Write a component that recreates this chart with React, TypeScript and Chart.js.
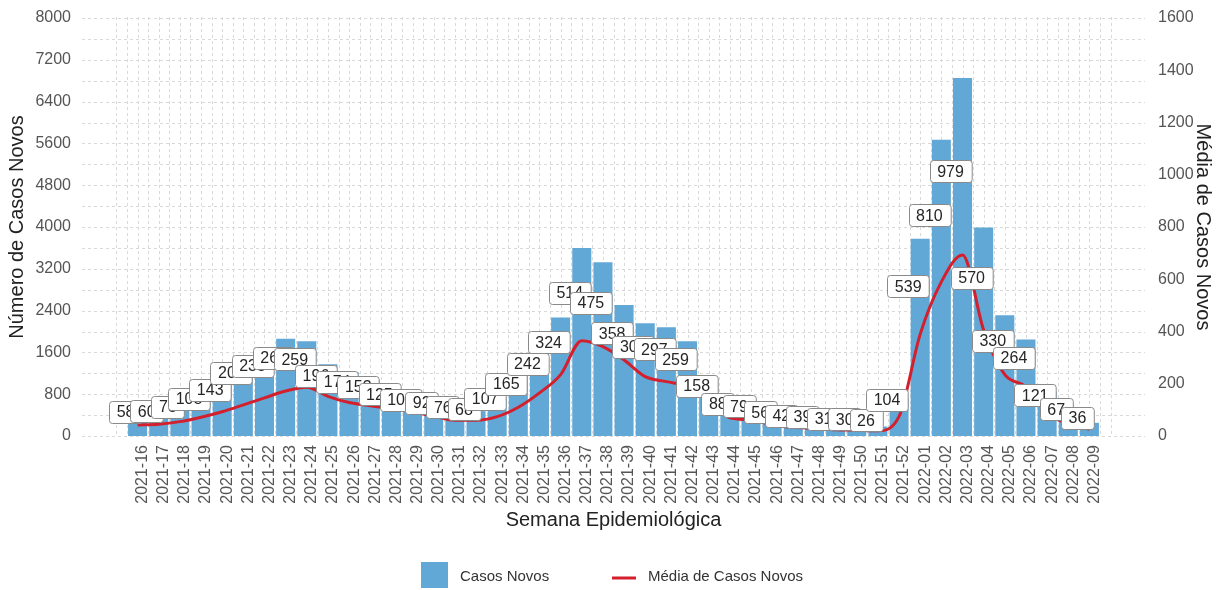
import React, { useEffect, useRef } from "react";
import { Chart, registerables } from "chart.js";

Chart.register(...registerables);

const semanas = [
  "2021-16", "2021-17", "2021-18", "2021-19", "2021-20", "2021-21", "2021-22", "2021-23",
  "2021-24", "2021-25", "2021-26", "2021-27", "2021-28", "2021-29", "2021-30", "2021-31",
  "2021-32", "2021-33", "2021-34", "2021-35", "2021-36", "2021-37", "2021-38", "2021-39",
  "2021-40", "2021-41", "2021-42", "2021-43", "2021-44", "2021-45", "2021-46", "2021-47",
  "2021-48", "2021-49", "2021-50", "2021-51", "2021-52", "2022-01", "2022-02", "2022-03",
  "2022-04", "2022-05", "2022-06", "2022-07", "2022-08", "2022-09",
];

// weekly new cases (left axis)
const casosNovos = [
  406, 420, 546, 756, 1001, 1456, 1645, 1862,
  1813, 1372, 1218, 1071, 875, 721, 644, 532,
  476, 749, 1155, 1694, 2268, 3598, 3325, 2506,
  2156, 2079, 1813, 1106, 616, 553, 392, 294,
  273, 217, 210, 182, 728, 3773, 5670, 6853,
  3990, 2310, 1848, 847, 469, 252,
];

// boxed labels (daily mean of the week)
const mediaDiaria = [
  58, 60, 78, 108, 143, 208, 235, 266,
  259, 196, 174, 153, 125, 103, 92, 76,
  68, 107, 165, 242, 324, 514, 475, 358,
  308, 297, 259, 158, 88, 79, 56, 42,
  39, 31, 30, 26, 104, 539, 810, 979,
  570, 330, 264, 121, 67, 36,
];

// red line (right axis)
const mediaMovel = [
  42, 45, 55, 72, 93, 119, 146, 172,
  187, 152, 128, 116, 104, 92, 76, 60,
  60, 74, 110, 165, 235, 365, 342, 291,
  227, 208, 190, 140, 70, 62, 42, 33,
  29, 24, 22, 20, 75, 390, 590, 693,
  405, 235, 188, 86, 48, 26,
];

const BAR_COLOR = "#62A8D6";
const LINE_COLOR = "#D41F2C";
const FONT = "'Liberation Sans', Arial, Helvetica, sans-serif";

const gridPlugin = {
  id: "ggGrid",
  beforeDatasetsDraw(chart: any) {
    const { ctx, chartArea, scales } = chart;
    const x = scales.x;
    const y = scales.y;
    ctx.save();
    ctx.strokeStyle = "#d9d9d9";
    ctx.lineWidth = 1;
    ctx.setLineDash([3, 3]);
    for (let v = 0; v <= 8000; v += 400) {
      const py = Math.round(y.getPixelForValue(v)) + 0.5;
      ctx.beginPath();
      ctx.moveTo(82, py);
      ctx.lineTo(1145, py);
      ctx.stroke();
    }
    const n = semanas.length;
    for (let h = -2; h <= (n - 1) * 2 + 2; h++) {
      const px = Math.round(x.getPixelForValue(h / 2)) + 0.5;
      ctx.beginPath();
      ctx.moveTo(px, chartArea.top - 1);
      ctx.lineTo(px, chartArea.bottom);
      ctx.stroke();
    }
    ctx.restore();
  },
};

const labelPlugin = {
  id: "ggLabels",
  afterDatasetsDraw(chart: any) {
    const { ctx, scales } = chart;
    const x = scales.x;
    const y1 = scales.y1;
    ctx.save();
    ctx.font = `16px ${FONT}`;
    ctx.textAlign = "center";
    ctx.textBaseline = "middle";
    mediaDiaria.forEach((v, i) => {
      const cx = x.getPixelForValue(i) - 12;
      const cy = y1.getPixelForValue(v) - 9;
      const text = String(v);
      const w = ctx.measureText(text).width + 15;
      const h = 22;
      const left = Math.round(cx - w / 2) + 0.5;
      const top = Math.round(cy - h / 2) + 0.5;
      ctx.beginPath();
      ctx.roundRect(left, top, w, h, 3);
      ctx.fillStyle = "#ffffff";
      ctx.fill();
      ctx.strokeStyle = "#8a8a8a";
      ctx.lineWidth = 1;
      ctx.stroke();
      ctx.fillStyle = "#262626";
      ctx.fillText(text, cx, cy + 1);
    });
    ctx.restore();
  },
};

const legendPlugin = {
  id: "ggLegend",
  afterDraw(chart: any) {
    const { ctx } = chart;
    ctx.save();
    ctx.fillStyle = BAR_COLOR;
    ctx.fillRect(421, 562, 27, 26);
    ctx.strokeStyle = LINE_COLOR;
    ctx.lineWidth = 3;
    ctx.beginPath();
    ctx.moveTo(612, 578);
    ctx.lineTo(636, 578);
    ctx.stroke();
    ctx.font = `15px ${FONT}`;
    ctx.fillStyle = "#333333";
    ctx.textAlign = "left";
    ctx.textBaseline = "middle";
    ctx.fillText("Casos Novos", 460, 577);
    ctx.fillText("Média de Casos Novos", 648, 577);
    ctx.restore();
  },
};

const plainTick = (v: any) => String(v);

export default function App() {
  const ref = useRef<HTMLCanvasElement | null>(null);

  useEffect(() => {
    if (!ref.current) return;
    Chart.defaults.font.family = FONT;
    const chart = new Chart(ref.current, {
      type: "bar",
      data: {
        labels: semanas,
        datasets: [
          {
            type: "line",
            label: "Média de Casos Novos",
            data: mediaMovel,
            yAxisID: "y1",
            borderColor: LINE_COLOR,
            borderWidth: 3,
            pointRadius: 0,
            cubicInterpolationMode: "monotone",
            order: 1,
          } as any,
          {
            type: "bar",
            label: "Casos Novos",
            data: casosNovos,
            yAxisID: "y",
            backgroundColor: BAR_COLOR,
            barPercentage: 0.9,
            categoryPercentage: 1.0,
            order: 2,
          },
        ],
      },
      options: {
        responsive: false,
        animation: false,
        layout: { padding: { top: 18, left: 0, right: 0, bottom: 0 } },
        plugins: {
          legend: { display: false },
          tooltip: { enabled: false },
        },
        scales: {
          x: {
            type: "category",
            offset: true,
            grid: { display: false, drawTicks: false },
            border: { display: false },
            ticks: {
              autoSkip: false,
              minRotation: 90,
              maxRotation: 90,
              padding: 9,
              labelOffset: 5,
              color: "#555555",
              font: { size: 16 },
            },
            title: {
              display: true,
              text: "Semana Epidemiológica",
              color: "#222222",
              font: { size: 20 },
              padding: { top: 0, bottom: 58 },
            },
            afterFit: (s: any) => {
              s.height = 154;
              s.paddingTop = 0;
              s.paddingBottom = 0;
            },
          },
          y: {
            position: "left",
            min: 0,
            max: 8000,
            grid: { display: false, drawTicks: false },
            border: { display: false },
            ticks: {
              stepSize: 800,
              padding: 56,
              color: "#555555",
              font: { size: 16 },
              callback: plainTick,
            },
            title: {
              display: true,
              text: "Número de Casos Novos",
              color: "#222222",
              font: { size: 20 },
              padding: { top: 5, bottom: 0 },
            },
            afterFit: (s: any) => {
              s.width = 127;
              s.paddingTop = 0;
              s.paddingBottom = 0;
            },
          },
          y1: {
            position: "right",
            min: 0,
            max: 1600,
            grid: { display: false, drawTicks: false },
            border: { display: false },
            ticks: {
              stepSize: 200,
              padding: 58,
              color: "#555555",
              font: { size: 16 },
              callback: plainTick,
            },
            title: {
              display: true,
              text: "Média de Casos Novos",
              color: "#222222",
              font: { size: 20 },
              padding: { top: 6, bottom: 0 },
            },
            afterFit: (s: any) => {
              s.width = 121;
              s.paddingTop = 0;
              s.paddingBottom = 0;
            },
          },
        },
      } as any,
      plugins: [gridPlugin, labelPlugin, legendPlugin],
    });
    return () => chart.destroy();
  }, []);

  return (
    <div style={{ position: "fixed", left: 0, top: 0, width: 1221, height: 590, background: "#fff" }}>
      <canvas ref={ref} width={1221} height={590} />
    </div>
  );
}
